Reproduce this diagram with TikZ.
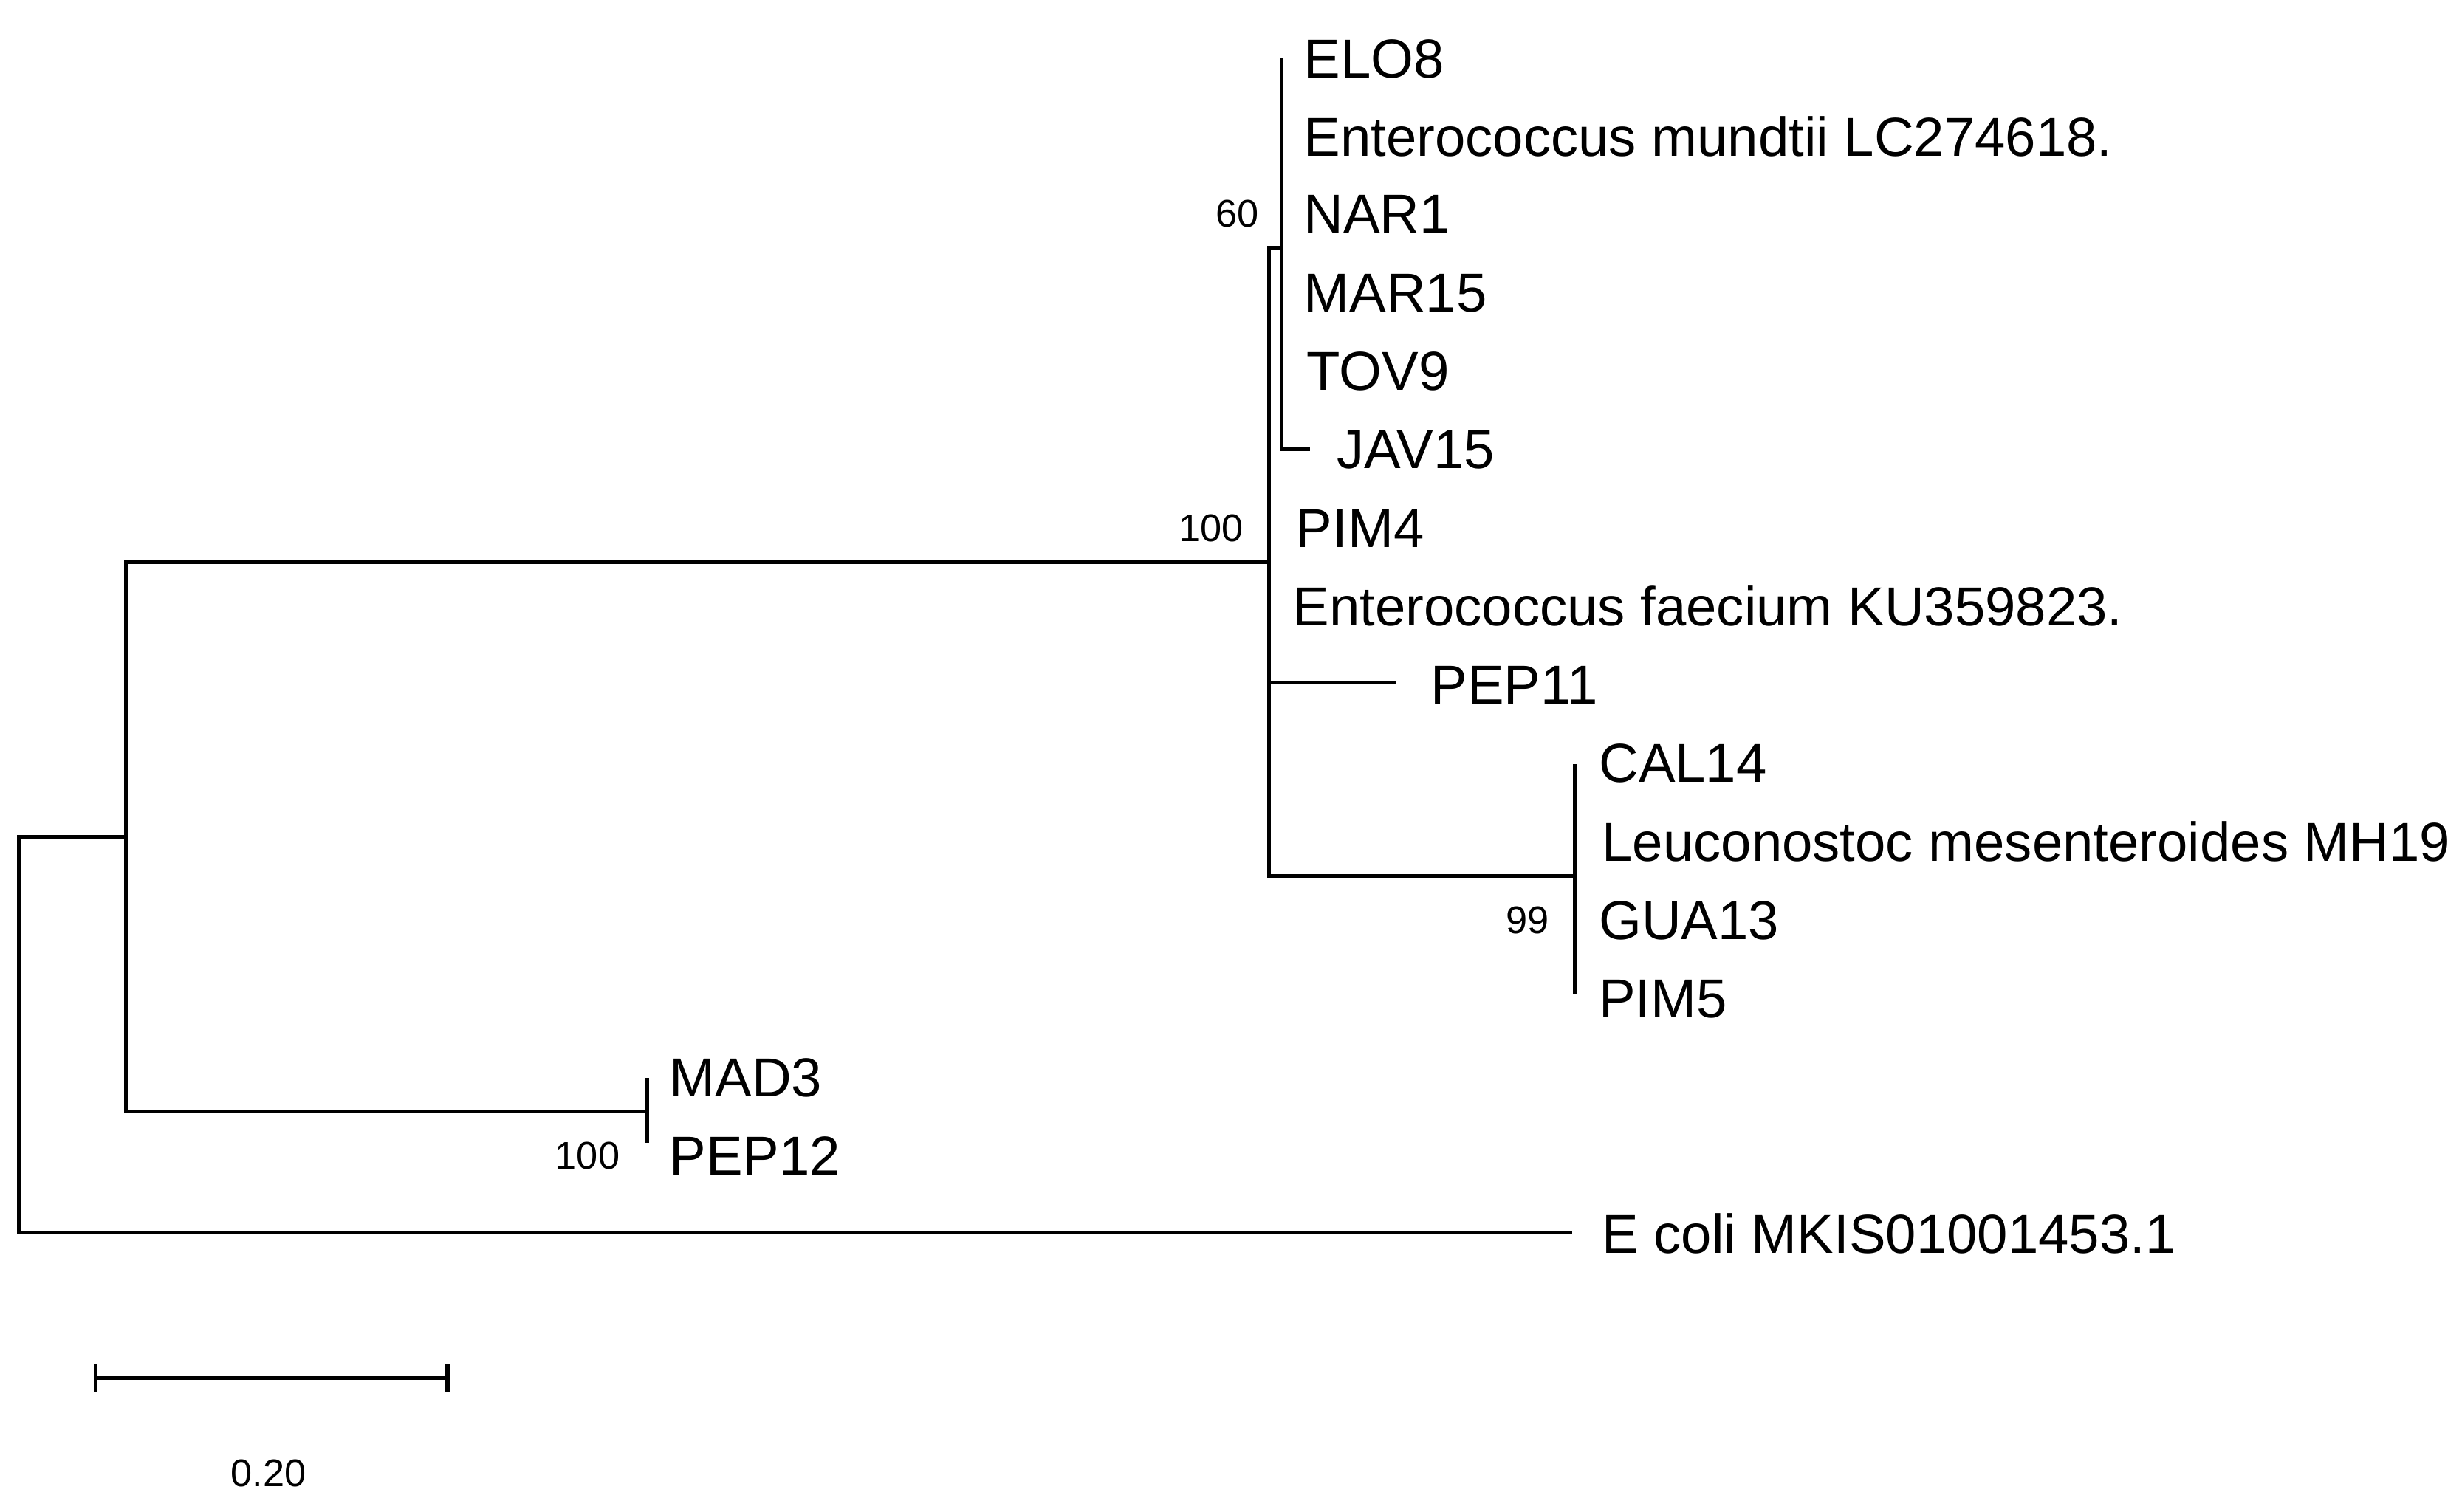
\documentclass[tikz,border=0pt]{standalone}
\usepackage{fontspec}
\setmainfont{Liberation Sans}
\begin{document}
\begin{tikzpicture}[x=0.02cm,y=-0.02cm,
  br/.style={line width=1.35pt, line cap=rect},
  leaf/.style={anchor=west, inner sep=0pt, font=\fontsize{19.9}{24}\selectfont, text height=14.25pt, text depth=0pt},
  boot/.style={anchor=east, inner sep=0pt, font=\fontsize{14}{16}\selectfont, text height=10pt, text depth=0pt}]
\useasboundingbox (0,0) rectangle (1568,963);
% leaf labels
\node[leaf] (elo8) at (830,37) {ELO8};
\node[leaf] (emund) at (830,87) {Enterococcus mundtii LC274618.};
\node[leaf] (nar1) at (830,136) {NAR1};
\node[leaf] (mar15) at (830,186) {MAR15};
\node[leaf] (tov9) at (832,236) {TOV9};
\node[leaf] (jav15) at (851,286) {JAV15};
\node[leaf] (pim4) at (825,336) {PIM4};
\node[leaf] (efaec) at (823,386) {Enterococcus faecium KU359823.};
\node[leaf] (pep11) at (911,436) {PEP11};
\node[leaf] (cal14) at (1018,486) {CAL14};
\node[leaf] (leuc) at (1020,536) {Leuconostoc mesenteroides MH19};
\node[leaf] (gua13) at (1018,586) {GUA13};
\node[leaf] (pim5) at (1018,636) {PIM5};
\node[leaf] (mad3) at (426,686) {MAD3};
\node[leaf] (pep12) at (426,736) {PEP12};
\node[leaf] (ecoli) at (1020,786) {E coli MKIS01001453.1};
% bootstrap values
\node[boot] (b60) at (802,136) {60};
\node[boot] (b100a) at (792,336) {100};
\node[boot] (b99) at (987,586) {99};
\node[boot] (b100b) at (395,736) {100};
% tree coordinates
\coordinate (tELO) at (816,38);
\coordinate (tJAV) at (833,286);
\coordinate (n60) at (816,158);
\coordinate (nEnt) at (808,358);
\coordinate (tPEP11) at (888,435);
\coordinate (nLeu) at (1003,558);
\coordinate (tCAL) at (1003,488);
\coordinate (tPIM5) at (1003,632);
\coordinate (nA) at (80,533);
\coordinate (nMad) at (412,708);
\coordinate (tMAD) at (412,688);
\coordinate (tPEP12) at (412,727);
\coordinate (root) at (12,659);
\coordinate (tEcoli) at (1000,785);
% branches
\draw[br] (tELO) |- (tJAV);
\draw[br] (n60) -| (nEnt);
\draw[br] (nLeu) -| (nEnt);
\draw[br] (tPEP11) -- (tPEP11 -| nEnt);
\draw[br] (tCAL) -- (tPIM5);
\draw[br] (tMAD) -- (tPEP12);
\draw[br] (nEnt) -| (nA);
\draw[br] (nMad) -| (nA);
\draw[br] (nA) -| (root);
\draw[br] (tEcoli) -| (root);
% scale bar
\coordinate (sbL) at (61,878);
\coordinate (sbR) at (285,878);
\draw[br] (sbL) -- (sbR);
\draw[br] (sbL) ++(0,-8) -- ++(0,16);
\draw[br] (sbR) ++(0,-8) -- ++(0,16);
\node[boot, anchor=center] (sblab) at (171,938) {0.20};
\end{tikzpicture}
\end{document}
